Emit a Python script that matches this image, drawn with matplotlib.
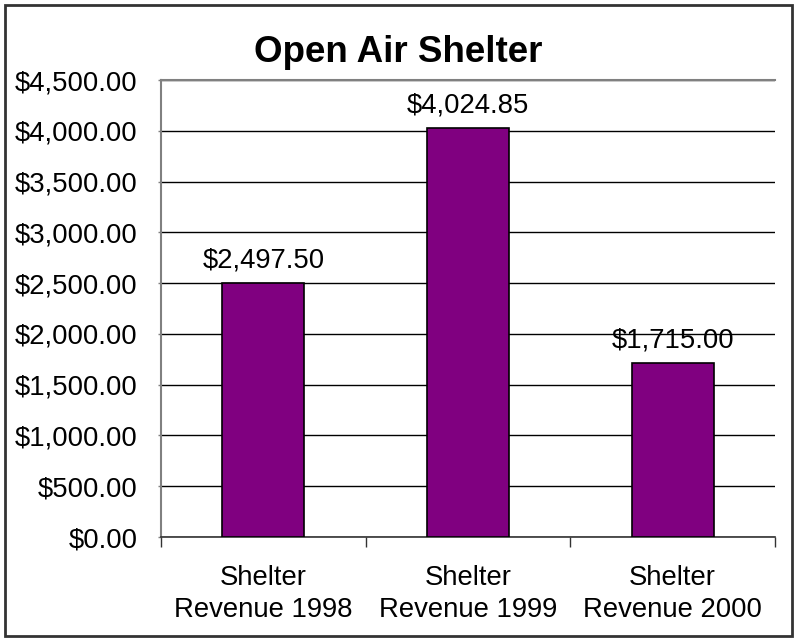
import matplotlib
matplotlib.use("Agg")
import matplotlib.pyplot as plt
from matplotlib.patches import Rectangle
from matplotlib.ticker import FuncFormatter

categories = ["Shelter\nRevenue 1998", "Shelter\nRevenue 1999", "Shelter\nRevenue 2000"]
values = [2497.50, 4024.85, 1715.00]
title = "Open Air Shelter"

plt.rcParams['font.family'] = ['Liberation Sans', 'DejaVu Sans']

fig = plt.figure(figsize=(7.94, 6.4), dpi=100)
W, H = 794, 640
ax = fig.add_axes([161 / W, 1 - 537 / H, (775 - 161) / W, (537 - 80) / H])

FS = 19.8
x = list(range(len(categories)))
ax.bar(x, values, width=0.4, color="#800080", edgecolor="black", linewidth=1.2, zorder=3)
ax.set_xlim(-0.5, len(categories) - 0.5)
ax.set_ylim(0, 4500)
ax.set_yticks([i * 500 for i in range(10)])
ax.yaxis.set_major_formatter(FuncFormatter(lambda v, p: f"${v:,.2f}"))
ax.grid(axis="y", color="black", linewidth=1.0, zorder=0)
ax.set_axisbelow(True)

ax.set_xticks(x)
ax.set_xticklabels(categories, fontsize=FS, linespacing=1.3)
ax.set_xticks([-0.5, 0.5, 1.5, 2.5], minor=True)
ax.tick_params(axis="x", which="major", length=0, pad=20)
ax.tick_params(axis="x", which="minor", length=7, width=1, color="#333333", direction="out")
ax.tick_params(axis="y", labelsize=FS, length=2, width=1, color="#808080", pad=15)

for s in ["top", "right"]:
    ax.spines[s].set_visible(False)
ax.spines["left"].set_color("#808080")
ax.spines["left"].set_linewidth(1.5)
ax.spines["bottom"].set_color("#333333")
ax.spines["bottom"].set_linewidth(1.2)
ax.axhline(4500, color="#808080", linewidth=1.5, zorder=1, clip_on=False)

for xi, v in zip(x, values):
    ax.annotate(f"${v:,.2f}", (xi, v), xytext=(0, 7), textcoords="offset points",
                ha="center", va="bottom", fontsize=FS)

fig.text(398 / W, 1 - 62 / H, title, ha="center", va="baseline", fontsize=26.5, fontweight="bold")

fig.patches.append(Rectangle((5 / W, 4 / H), 787 / W, 631 / H, transform=fig.transFigure,
                             fill=False, edgecolor="#333333", linewidth=2))

fig.savefig("out.png", dpi=100)
